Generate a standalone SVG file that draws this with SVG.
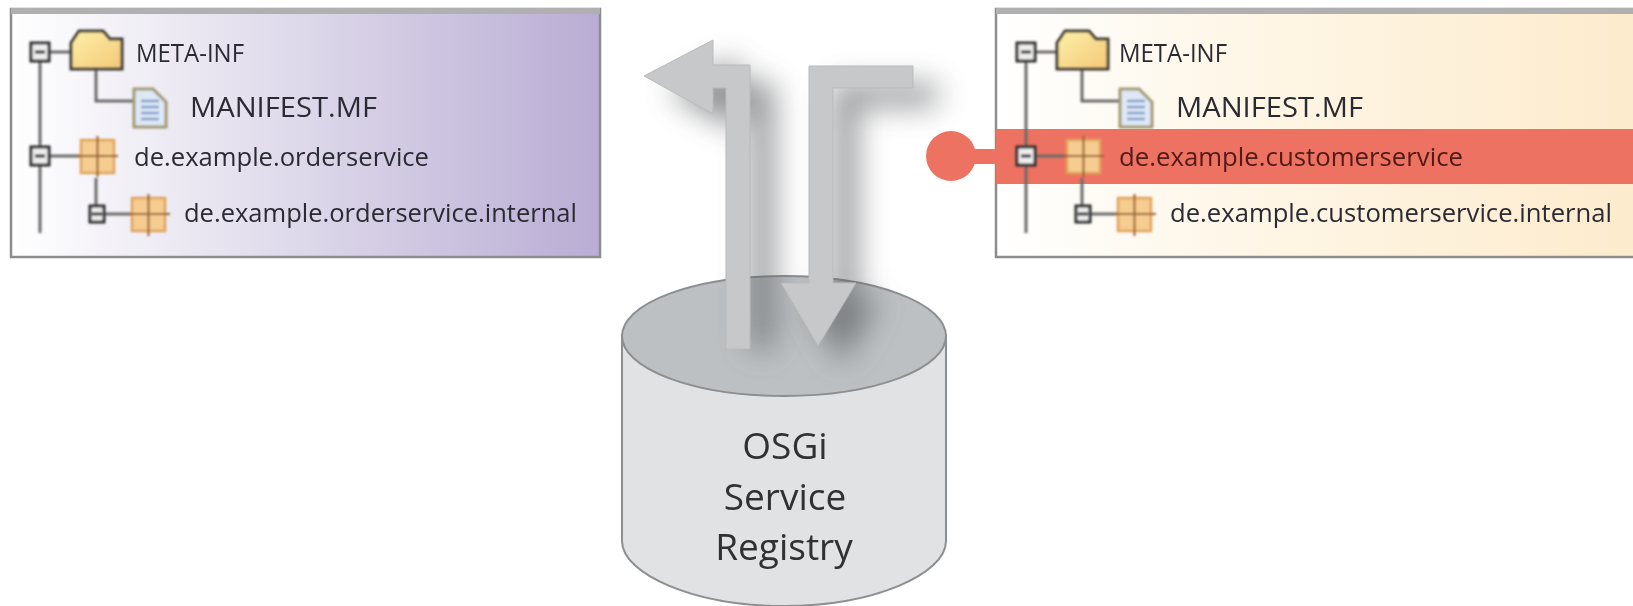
<svg xmlns="http://www.w3.org/2000/svg" width="1633" height="606" viewBox="0 0 1633 606">
<style>
text{font-family:"Open Sans","Noto Sans","Liberation Sans",sans-serif;fill:#2b2b33;filter:url(#ts)}
.t{font-size:25.500px}
.b{font-size:27px}
.m{font-size:25px}
.r{fill:#4f1a18}
.c{font-size:37px;text-anchor:middle;fill:#2f3133}
.panel{stroke:#8c8c8c;stroke-width:2.500}
.strip{fill:#b0b0b0}
.tl{fill:none;stroke:#6a6a6a;stroke-width:3}
.mb{fill:#eeeeee;stroke:#2e2e2e;stroke-width:3}
.mn{stroke:#2e2e2e;stroke-width:3}
.fo{fill:url(#fg);stroke:#3d3a30;stroke-width:3}
.doc{fill:#dfe8f5;stroke:#a09a70;stroke-width:3}
.dl{stroke:#7d9ccc;stroke-width:2.500}
.pk{fill:#f6cc90;stroke:#e0a25c;stroke-width:2.500}
.pl{stroke:#96602f;stroke-width:2}
.ar{fill:#c6c8ca;stroke:#b8babc;stroke-width:1}
.sh{fill:#5a5d60;opacity:.68;filter:url(#bl)}
</style>
<defs>
<linearGradient id="lg"><stop offset="0" stop-color="#ffffff"/><stop offset=".4" stop-color="#e4e0ee"/><stop offset="1" stop-color="#b9add4"/></linearGradient>
<linearGradient id="rg"><stop offset="0" stop-color="#ffffff"/><stop offset=".4" stop-color="#fef6e6"/><stop offset="1" stop-color="#fdebcd"/></linearGradient>
<linearGradient id="fg" x2="1" y2="1"><stop offset="0" stop-color="#fcf0a8"/><stop offset="1" stop-color="#f5c878"/></linearGradient>
<filter id="bl" x="-60%" y="-60%" width="220%" height="220%"><feGaussianBlur stdDeviation="15"/></filter>
<filter id="soft" x="-5%" y="-5%" width="110%" height="110%"><feGaussianBlur stdDeviation="1"/></filter>
<filter id="ts" x="-5%" y="-20%" width="110%" height="140%"><feGaussianBlur stdDeviation=".45"/></filter>
<g id="tree" filter="url(#soft)">
<path class="tl" d="M40 58V233M40 52H71M96 70V101H134M40 156H82M96 178V210M96 214H132"/>
<path class="fo" d="M71 69V43L79 31H103L110 39H122V69Z"/>
<path class="doc" d="M134 89H153L166 102V127H134Z"/>
<path class="dl" d="M141 101H159M141 107H159M141 113H159M141 119H159"/>
<rect class="mb" x="31" y="43" width="18" height="18"/><path class="mn" d="M35 52H45"/>
<rect class="mb" x="31" y="147" width="18" height="18"/><path class="mn" d="M35 156H45"/>
<rect class="mb" x="90" y="206" width="14" height="16"/><path class="mn" d="M92 214H102"/>
<rect class="pk" x="81" y="140" width="33" height="33"/><path class="pl" d="M97.500 136V177M76 156H118"/>
<rect class="pk" x="132" y="198" width="33" height="33"/><path class="pl" d="M148.500 194V236M128 214H170"/>
</g>
</defs>

<g id="left-panel">
<rect class="panel" x="11" y="9" width="589" height="248" fill="url(#lg)"/>
<rect class="strip" x="11" y="8" width="589" height="6"/>
<use href="#tree"/>
<text class="m" x="136" y="62" textLength="108" lengthAdjust="spacingAndGlyphs">META-INF</text>
<text class="b" x="190" y="117" textLength="187" lengthAdjust="spacingAndGlyphs">MANIFEST.MF</text>
<text class="t" x="134" y="166" textLength="295" lengthAdjust="spacingAndGlyphs">de.example.orderservice</text>
<text class="t" x="184" y="222" textLength="393" lengthAdjust="spacingAndGlyphs">de.example.orderservice.internal</text>
</g>

<g id="right-panel">
<rect class="panel" x="996" y="9" width="640" height="248" fill="url(#rg)"/>
<rect class="strip" x="996" y="8" width="640" height="6"/>
<circle cx="951" cy="156" r="25" fill="#ee7261"/>
<rect x="960" y="149" width="40" height="15" fill="#ee7261"/>
<rect x="996" y="129" width="637" height="55" fill="#ee7261"/>
<use href="#tree" x="986"/>
<text class="m" x="1119" y="62" textLength="108" lengthAdjust="spacingAndGlyphs">META-INF</text>
<text class="b" x="1176" y="117" textLength="187" lengthAdjust="spacingAndGlyphs">MANIFEST.MF</text>
<text class="t r" x="1119" y="166" textLength="344" lengthAdjust="spacingAndGlyphs">de.example.customerservice</text>
<text class="t" x="1170" y="222" textLength="442" lengthAdjust="spacingAndGlyphs">de.example.customerservice.internal</text>
</g>

<g id="registry">
<path d="M622 335V541C622 574 694 606 784 606C874 606 946 574 946 541V335Z" fill="#e0e2e4" stroke="#8c8f91" stroke-width="2"/>
<ellipse cx="784" cy="336" rx="162" ry="60" fill="#bdc0c2" stroke="#8c8f91" stroke-width="2"/>
<text class="c" x="785" y="459">OSGi</text>
<text class="c" x="785" y="510">Service</text>
<text class="c" x="784" y="560">Registry</text>
</g>

<g id="connectors">
<path class="sh" d="M668 92L737 58V83H774V349H750V110H737V130Z"/>
<path class="sh" d="M833 348V84H937V106H857V300L880 300L842 364L805 300H833Z"/>
<path class="ar" d="M644 76L713 40V65H750V349H726V88H713V114Z"/>
<path class="ar" d="M809 283V66H913V88H833V283H856L818 346L781 283Z"/>
</g>
</svg>
